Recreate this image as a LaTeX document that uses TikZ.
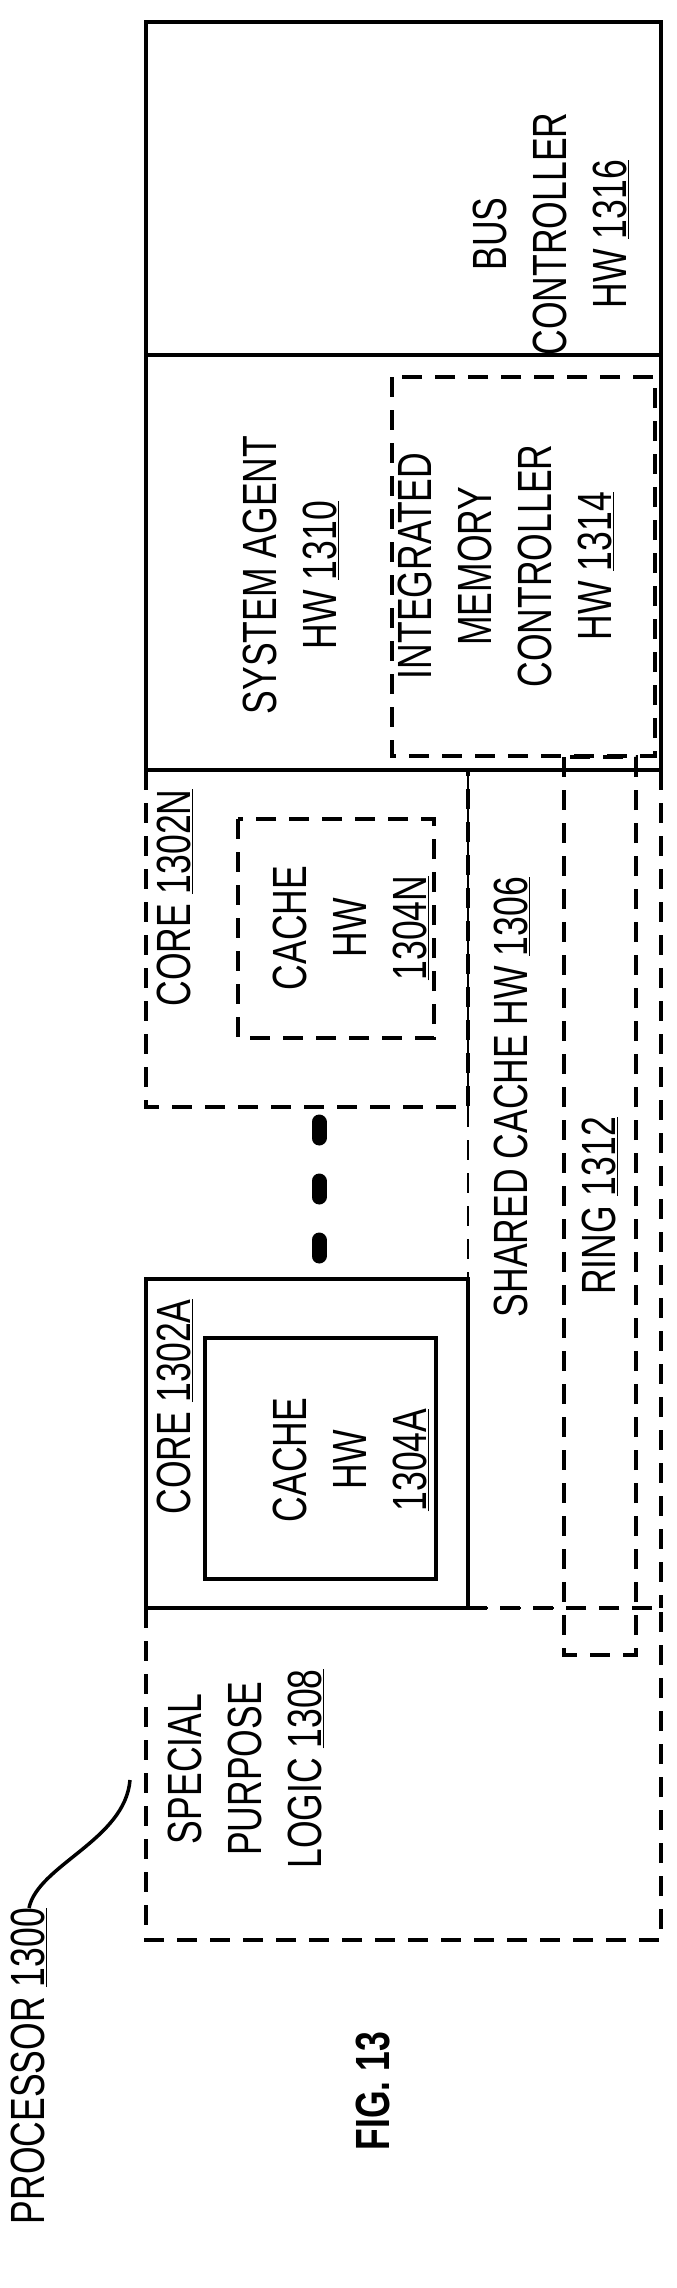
\documentclass[tikz,border=0pt]{standalone}
\usepackage{fontspec}
\setmainfont{Liberation Sans}
\begin{document}
\begin{tikzpicture}[x=1pt,y=-1pt,
  solidbox/.style={draw,line width=4.5pt},
  dashbox/.style={draw,line width=4.5pt,dash pattern=on 20pt off 13pt},
  lbl/.style={rotate=90,xscale=0.74,align=center,font=\fontsize{48}{60}\selectfont,inner sep=0pt},
  dotmark/.style={line width=15pt,line cap=round}]
\useasboundingbox (0,0) rectangle (677,2288);
% boxes
\draw[solidbox] (146,22) rectangle (661,355);
\draw[solidbox] (146,355) rectangle (661,770);
\draw[dashbox] (392,377) rectangle (655,756);
\draw[dashbox] (146,770) rectangle (468,1107);
\draw[dashbox] (238,819) rectangle (434,1038);
\draw[solidbox] (146,1279) rectangle (468,1608);
\draw[solidbox] (205,1338) rectangle (436,1579);
\draw[line width=2pt,dash pattern=on 20pt off 13pt] (468,1107) -- (468,1279);
\draw[line width=2pt] (468,770) -- (468,1107) (468,1279) -- (468,1608);
\draw[dashbox] (564,757) rectangle (636,1655);
\draw[dashbox] (146,1608) rectangle (661,1940);
\draw[dashbox] (661,770) -- (661,1608);
\draw[line width=2pt,dash pattern=on 20pt off 13pt] (468,1608) -- (564,1608);
% dots
\coordinate (d1a) at (319,1122); \coordinate (d1b) at (319,1138);
\coordinate (d2a) at (319,1181); \coordinate (d2b) at (319,1197);
\coordinate (d3a) at (319,1240); \coordinate (d3b) at (319,1256);
\draw[dotmark] (d1a) -- (d1b); \draw[dotmark] (d2a) -- (d2b); \draw[dotmark] (d3a) -- (d3b);
% labels
\node[lbl] (bus) at (551,234) {BUS\\CONTROLLER\\HW \underline{1316}};
\node[lbl] (sa) at (291,575) {SYSTEM AGENT\\HW \underline{1310}};
\node[lbl] (imc) at (506,566) {INTEGRATED\\MEMORY\\CONTROLLER\\HW \underline{1314}};
\node[lbl] (coren) at (175,898) {CORE \underline{1302N}};
\node[lbl] (cachen) at (351,928) {CACHE\\HW\\\underline{1304N}};
\node[lbl] (corea) at (175,1407) {CORE \underline{1302A}};
\node[lbl] (cachea) at (351,1460) {CACHE\\HW\\\underline{1304A}};
\node[lbl] (shared) at (512,1097) {SHARED CACHE HW \underline{1306}};
\node[lbl] (ring) at (600,1206) {RING \underline{1312}};
\node[lbl] (spl) at (246,1769) {SPECIAL\\PURPOSE\\LOGIC \underline{1308}};
\node[lbl,anchor=east] (proc) at (29,1908) {PROCESSOR \underline{1300}};
\node[lbl,font=\fontsize{48}{60}\selectfont\bfseries] (fig) at (373,2091) {FIG. 13};
\coordinate (lead) at (130,1780);
\draw[line width=3.5pt] (proc.east) .. controls (38,1865) and (125,1840) .. (lead);
\end{tikzpicture}
\end{document}
